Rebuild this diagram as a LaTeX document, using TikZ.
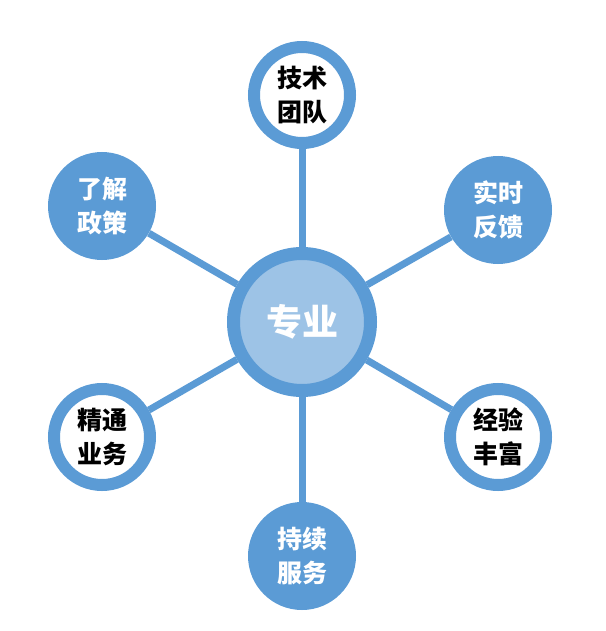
\documentclass[tikz,border=0pt]{standalone}
\usepackage{fontspec}
\setmainfont{Noto Sans CJK SC}
\usepackage{tikz}
\definecolor{skyblue}{HTML}{5B9BD5}
\definecolor{paleblue}{HTML}{9DC3E6}

\begin{document}
\begin{tikzpicture}[x=1pt,y=-1pt,
    ringnode/.style={circle, draw=skyblue, line width=12pt, fill=white, minimum size=96pt,
        align=center, font=\fontsize{25}{34}\selectfont\bfseries, text=black},
    fullnode/.style={circle, fill=skyblue, minimum size=108pt,
        align=center, font=\fontsize{25}{34}\selectfont\bfseries, text=white},
    link/.style={draw=skyblue, line width=7pt}]

    \useasboundingbox (0,0) rectangle (605,631);

    \node[circle, draw=skyblue, line width=13pt, fill=paleblue, minimum size=137pt,
        font=\fontsize{36}{40}\selectfont\bfseries, text=white] (core) at (302,322) {专业};

    \node[ringnode] (team) at (302,95) {技术\\团队};
    \node[fullnode] (feed) at (498,210) {实时\\反馈};
    \node[ringnode] (exp) at (498,437) {经验\\丰富};
    \node[fullnode] (serv) at (302,556) {持续\\服务};
    \node[ringnode] (biz) at (102,437) {精通\\业务};
    \node[fullnode] (policy) at (102,206) {了解\\政策};

    \foreach \s in {team,feed,exp,serv,biz,policy}
        \draw[link] (core) -- (\s);

\end{tikzpicture}
\end{document}
